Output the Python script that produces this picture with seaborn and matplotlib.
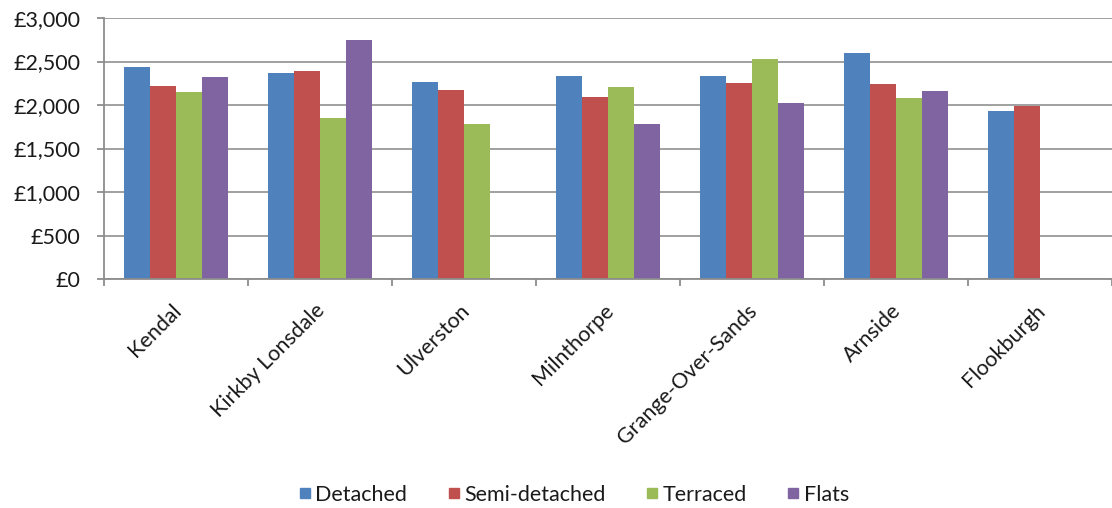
import numpy as np
import pandas as pd
import matplotlib
matplotlib.use("Agg")
import matplotlib.pyplot as plt
import matplotlib.transforms as mtransforms
import seaborn as sns
from matplotlib.ticker import FuncFormatter, MultipleLocator, FixedLocator
from matplotlib.lines import Line2D

towns = ["Kendal", "Kirkby Lonsdale", "Ulverston", "Milnthorpe",
         "Grange-Over-Sands", "Arnside", "Flookburgh"]
types = ["Detached", "Semi-detached", "Terraced", "Flats"]
detached = [2435, 2373, 2262, 2335, 2335, 2600, 1927]
semi_detached = [2219, 2393, 2177, 2092, 2254, 2239, 1992]
terraced = [2154, 1854, 1777, 2208, 2523, 2077, np.nan]
flats = [2320, 2750, np.nan, 1784, 2023, 2158, np.nan]
colors = ["#4F81BD", "#C0504D", "#9BBB59", "#8064A2"]

rows = []
for t, vals in zip(types, [detached, semi_detached, terraced, flats]):
    for town, v in zip(towns, vals):
        rows.append({"Town": town, "Type": t, "Price": v})
df = pd.DataFrame(rows)

sns.set_style("white")
plt.rcParams["font.family"] = ["Lato", "DejaVu Sans"]
FS = 15.5

fig = plt.figure(figsize=(11.12, 5.08), dpi=100)
ax = fig.add_axes([104 / 1112, (508 - 279) / 508, 1 - 104 / 1112, 261 / 508])

sns.barplot(data=df, x="Town", y="Price", hue="Type", order=towns,
            hue_order=types, palette=colors, width=0.722, gap=0,
            saturation=1, errorbar=None, ax=ax, legend=False,
            linewidth=0)

ax.set_xlim(-0.5, len(towns) - 0.5)
ax.set_ylim(0, 3000)
ax.yaxis.set_major_locator(MultipleLocator(500))
ax.yaxis.set_major_formatter(FuncFormatter(lambda v, p: f"£{int(v):,}"))
ax.grid(axis="y", color="#999999", linewidth=1.3)
ax.set_axisbelow(True)
for s in ["top", "right"]:
    ax.spines[s].set_visible(False)
for s in ["left", "bottom"]:
    ax.spines[s].set_color("#8c8c8c")
    ax.spines[s].set_linewidth(1.3)

ax.set_xlabel("")
ax.set_ylabel("")
ax.tick_params(axis="y", length=5, width=1.3, color="#8c8c8c", direction="out",
               labelsize=FS, labelcolor="#1a1a1a", pad=12, left=True)
ax.tick_params(axis="x", which="major", length=0, labelsize=FS,
               labelcolor="#1a1a1a", pad=15.5)
ax.xaxis.set_minor_locator(FixedLocator(np.arange(-0.5, len(towns), 1.0)))
ax.tick_params(axis="x", which="minor", length=5, width=1.3,
               color="#8c8c8c", direction="out", bottom=True)
offset = mtransforms.ScaledTranslation(-5 / 100, 0, fig.dpi_scale_trans)
for lab in ax.get_xticklabels():
    lab.set_rotation(45)
    lab.set_ha("right")
    lab.set_va("top")
    lab.set_rotation_mode("anchor")
    lab.set_transform(lab.get_transform() + offset)

handles = [Line2D([0], [0], marker="s", linestyle="", markersize=7,
                  markerfacecolor=c, markeredgecolor=c) for c in colors]
fig.legend(handles, types, loc="center", bbox_to_anchor=(0.515, (508 - 495) / 508),
           ncol=4, frameon=False, fontsize=FS, handletextpad=0.1,
           columnspacing=1.75, handlelength=0.8, labelcolor="#1a1a1a")

fig.savefig("out.png", dpi=100)
